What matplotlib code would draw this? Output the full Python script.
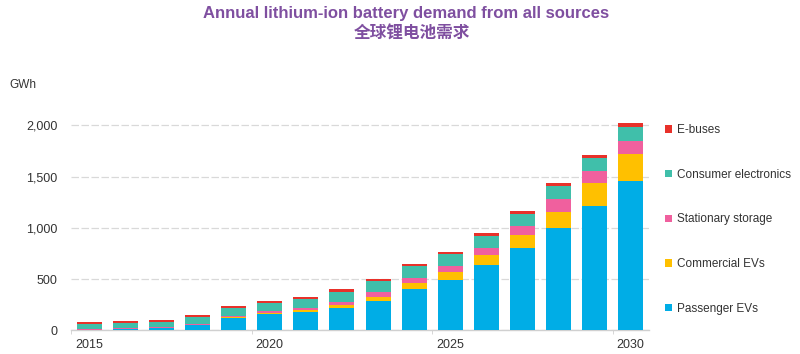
import matplotlib
matplotlib.use("Agg")
import matplotlib.pyplot as plt
import numpy as np

years = list(range(2015, 2031))
passenger_evs = [6, 16, 25, 52, 123, 156, 178, 218, 286, 403, 488, 634, 800, 998, 1216, 1457]
commercial_evs = [1, 1, 1, 2, 5, 10, 20, 32, 39, 58, 81, 98, 127, 153, 218, 263]
stationary = [8, 8, 6, 10, 12, 19, 22, 26, 49, 52, 55, 68, 88, 127, 117, 130]
consumer = [50, 45, 52, 66, 78, 81, 85, 100, 107, 110, 117, 123, 117, 127, 130, 137]
ebuses = [12, 18, 19, 22, 19, 23, 20, 25, 22, 28, 23, 24, 32, 29, 29, 33]

series = [
    ("Passenger EVs", passenger_evs, "#00ADE6"),
    ("Commercial EVs", commercial_evs, "#FFC000"),
    ("Stationary storage", stationary, "#F0609E"),
    ("Consumer electronics", consumer, "#40BFAA"),
    ("E-buses", ebuses, "#E8312A"),
]

plt.rcParams['font.family'] = ['Liberation Sans', 'DejaVu Sans']

fig = plt.figure(figsize=(8, 3.54), dpi=100)
ax = fig.add_axes([0.089, 0.067, 0.722, 0.651])

x = np.arange(len(years))
bottom = np.zeros(len(years))
handles = []
for name, vals, col in series:
    b = ax.bar(x, vals, width=0.69, bottom=bottom, color=col, label=name, zorder=3)
    bottom += np.array(vals)
    handles.append(b)

ax.set_xlim(-0.5, len(years) - 0.5)
ax.set_ylim(0, 2250)
ax.set_yticks([0, 500, 1000, 1500, 2000])
ax.set_yticklabels(["0", "500", "1,000", "1,500", "2,000"])
ax.yaxis.grid(True, color="#d9d9d9", linestyle=(0, (6, 2)), linewidth=0.9, zorder=0)
for s in ["top", "right", "left"]:
    ax.spines[s].set_visible(False)
ax.spines["bottom"].set_color("#d0d0d0")
ax.spines["bottom"].set_linewidth(1.0)

major = [0, 5, 10, 15]
ax.set_xticks(major)
ax.set_xticklabels([str(years[i]) for i in major])
ax.set_xticks([-0.5, 4.5, 9.5, 14.5], minor=True)
ax.tick_params(axis="x", which="major", length=0, pad=6, labelsize=9, labelcolor="#333333")
ax.tick_params(axis="x", which="minor", length=3, color="#d0d0d0")
ax.tick_params(axis="y", length=0, pad=10, labelsize=9, labelcolor="#333333")

fig.text(0.012, 0.76, "GWh", fontsize=8.5, color="#333333", va="center", ha="left")

fig.text(0.507, 0.962, "Annual lithium-ion battery demand from all sources",
         fontsize=12, fontweight="bold", color="#7F4FA0", ha="center", va="center",
         family=['Liberation Sans Narrow', 'Liberation Sans', 'DejaVu Sans'])
fig.text(0.515, 0.905, "全球锂电池需求", fontsize=12, fontweight="bold", color="#7F4FA0",
         ha="center", va="center", family=['Noto Sans CJK SC', 'DejaVu Sans'])

leg = ax.legend(handles[::-1], [s[0] for s in series[::-1]],
                loc="upper left", bbox_to_anchor=(1.01, 0.941), frameon=False,
                fontsize=8.5, handlelength=0.6, handleheight=0.6, handletextpad=0.4,
                labelspacing=2.77, labelcolor="#333333")

fig.savefig("out.png", dpi=100)
